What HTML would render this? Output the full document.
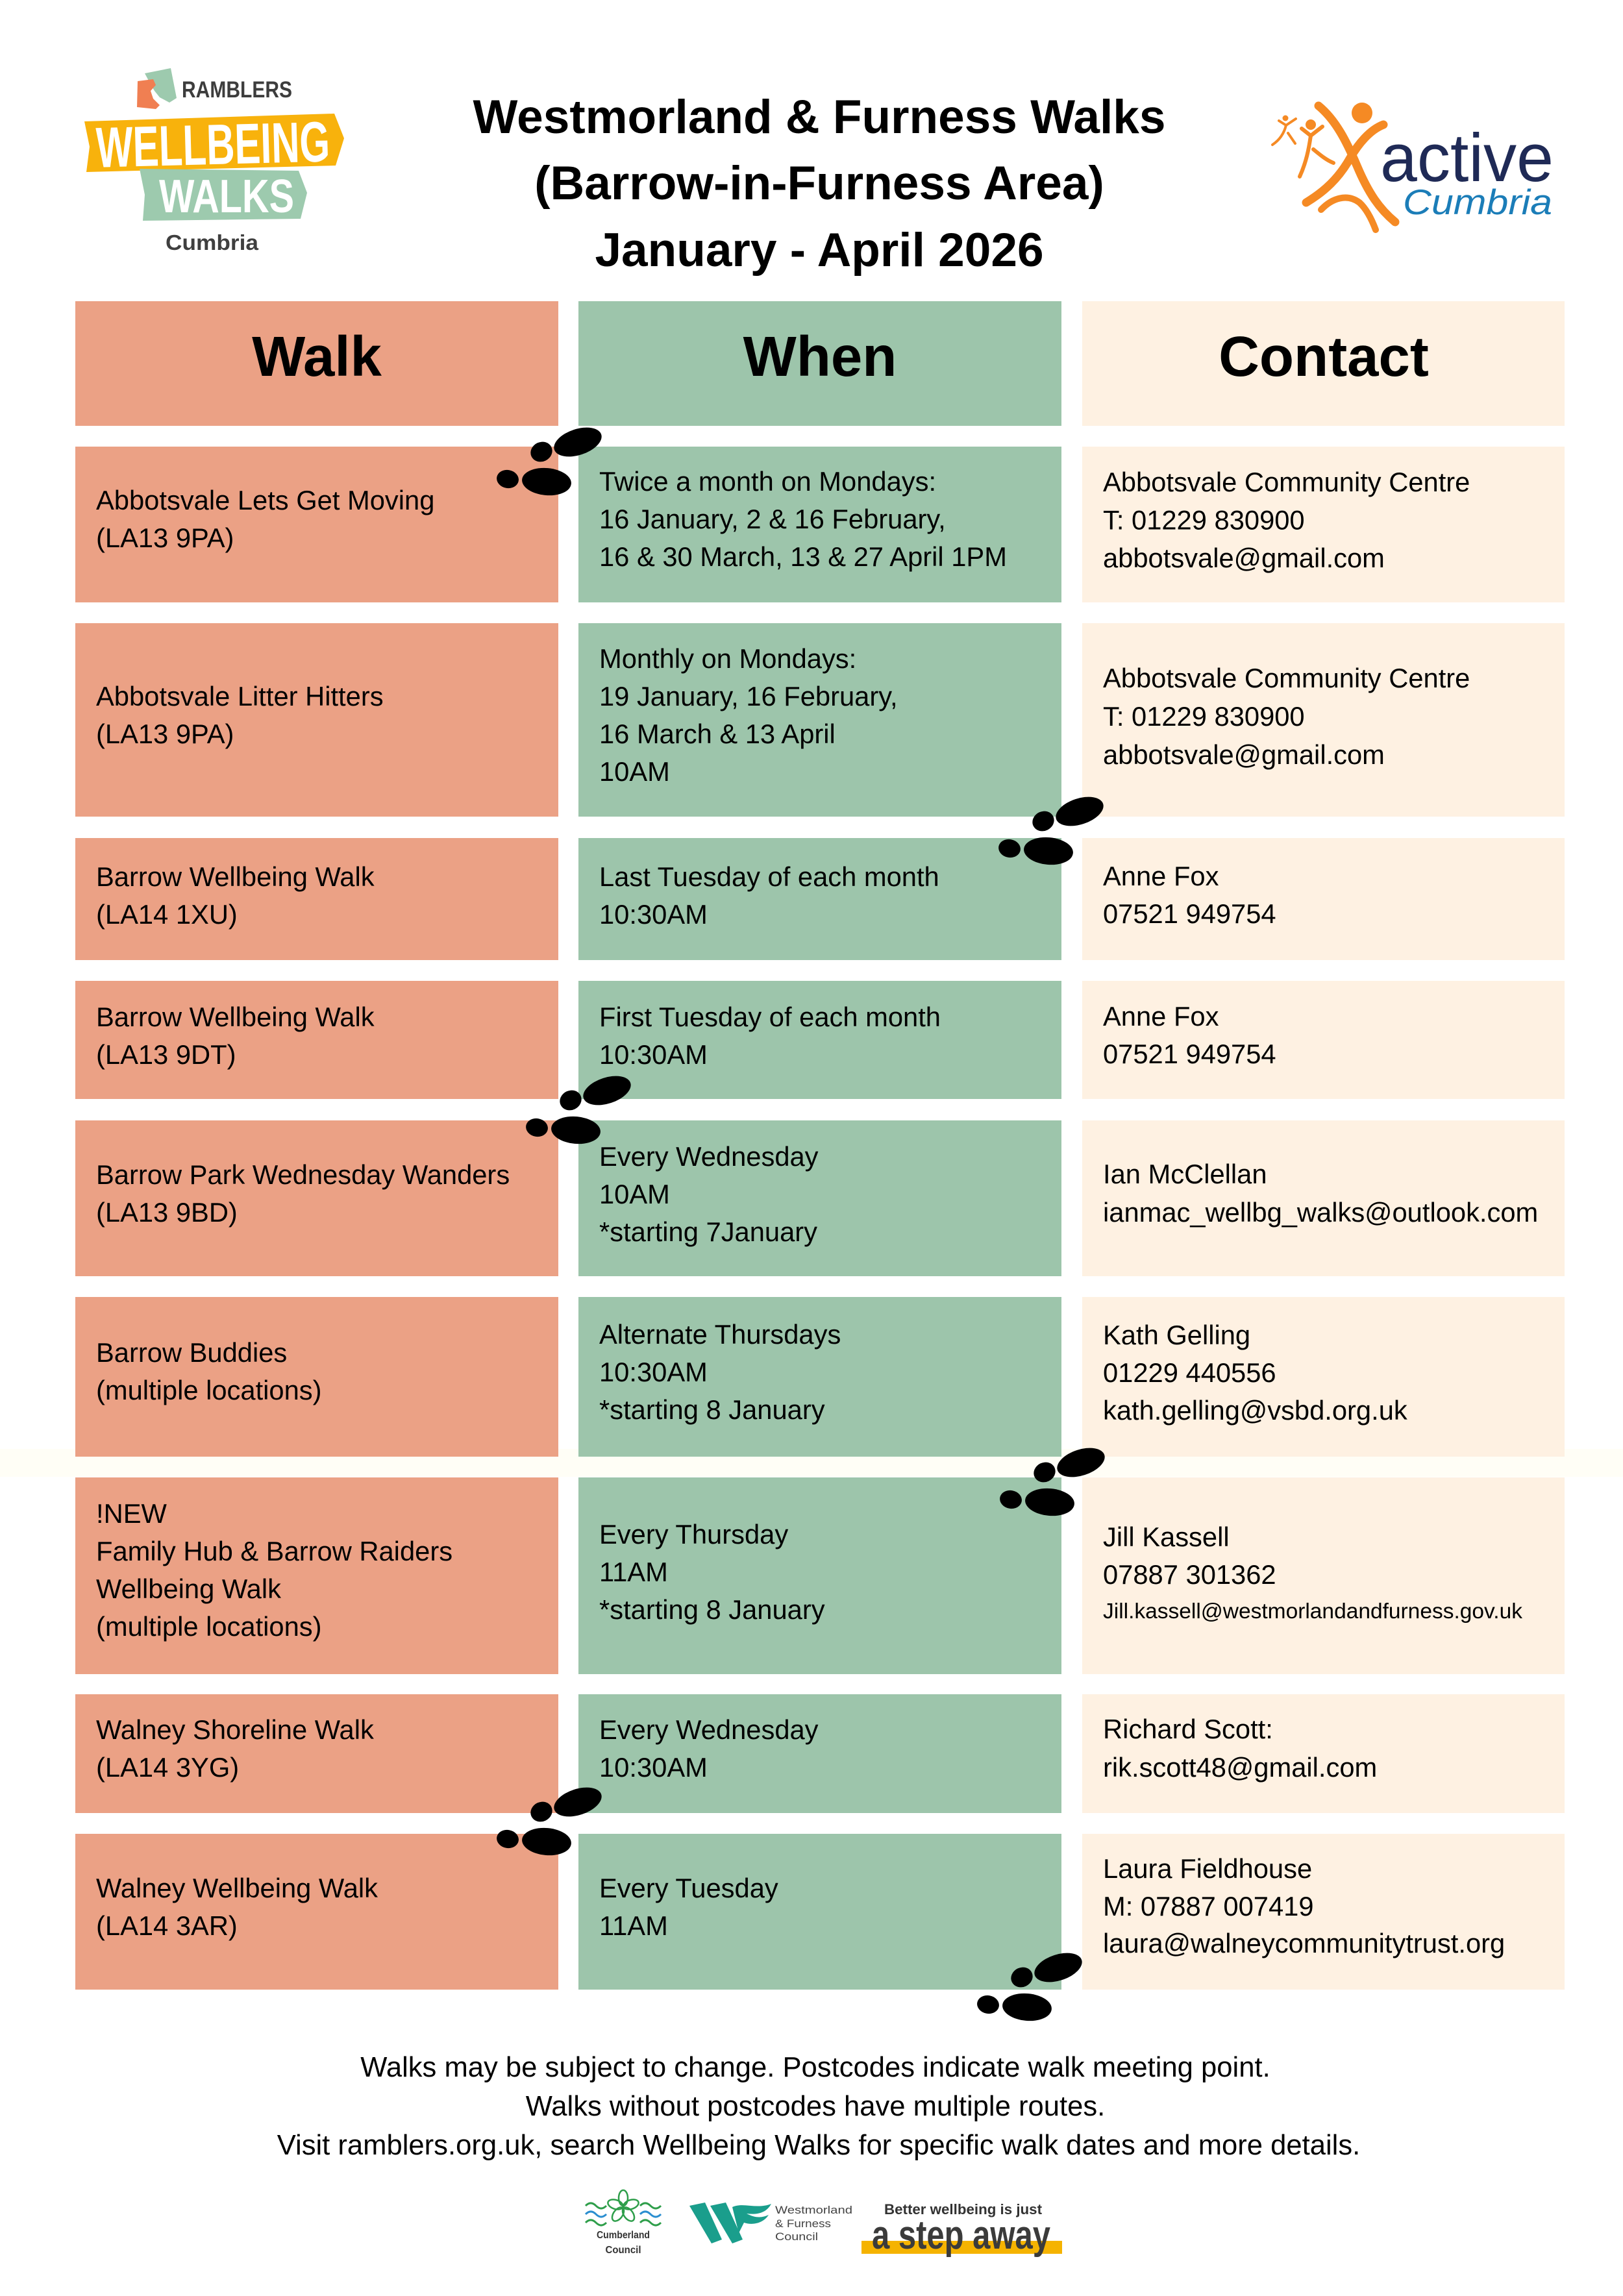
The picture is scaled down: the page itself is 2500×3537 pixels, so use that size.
<!DOCTYPE html>
<html>
<head>
<meta charset="utf-8">
<style>
html,body{margin:0;padding:0;background:#fff;}
body{width:2500px;height:3537px;overflow:hidden;}
svg{display:block;}
.t{font-family:"Liberation Sans",Arial,sans-serif;font-size:41.7px;fill:#000;}
.f{font-family:"Liberation Sans",Arial,sans-serif;font-size:43.6px;fill:#000;}
.b{font-family:"Liberation Sans",Arial,sans-serif;font-weight:bold;fill:#000;}
</style>
</head>
<body>
<svg width="2500" height="3537" viewBox="0 0 2500 3537" xmlns="http://www.w3.org/2000/svg">
<defs>
  <g id="fp">
    <ellipse cx="125" cy="20" rx="38" ry="20" transform="rotate(-18 125 20)" fill="#000"/>
    <ellipse cx="69" cy="35" rx="17" ry="15" transform="rotate(-25 69 35)" fill="#000"/>
    <ellipse cx="17" cy="77" rx="17" ry="14" transform="rotate(10 17 77)" fill="#000"/>
    <ellipse cx="77" cy="81" rx="38" ry="21" transform="rotate(5 77 81)" fill="#000"/>
  </g>
</defs>
<rect x="0" y="0" width="2500" height="3537" fill="#fff"/>
<rect x="0" y="2232" width="2500" height="43" fill="#fffef6"/>

<!-- Ramblers Wellbeing Walks logo -->
<polygon points="223,113 263,105 272,151 261,158 246,150 238,140 232,130" fill="#9dcaae"/>
<polygon points="212,125 236,122 240,131 232,140 236,152 246,162 240,168 211,165" fill="#f07f52"/>
<text x="280" y="150" class="b" font-size="35" style="fill:#3d3d3d" textLength="170" lengthAdjust="spacingAndGlyphs">RAMBLERS</text>
<polygon points="130,187 515,175 530,213 517,255 133,265 138,226" fill="#f8b20c"/>
<text x="148" y="253" class="b" font-size="88" style="fill:#fff" textLength="360" lengthAdjust="spacingAndGlyphs" transform="rotate(-1.5 330 220)">WELLBEING</text>
<polygon points="215,260 460,263 473,297 463,337 220,340 223,300" fill="#9dcaae"/>
<text x="245" y="327" class="b" font-size="72" style="fill:#fff" textLength="208" lengthAdjust="spacingAndGlyphs">WALKS</text>
<text x="255" y="385" class="b" font-size="33" style="fill:#3f3f3f" textLength="143" lengthAdjust="spacingAndGlyphs">Cumbria</text>

<!-- Title -->
<text x="1262" y="205" class="b" font-size="73" text-anchor="middle">Westmorland &amp; Furness Walks</text>
<text x="1262" y="307" class="b" font-size="73" text-anchor="middle">(Barrow-in-Furness Area)</text>
<text x="1262" y="410" class="b" font-size="73" text-anchor="middle">January - April 2026</text>

<!-- Active Cumbria logo -->
<g fill="none" stroke="#f58a24" stroke-linecap="round" stroke-linejoin="round">
  <path d="M2031,163 C2058,185 2075,220 2090,255 C2108,298 2125,322 2149,342" stroke-width="13"/>
  <path d="M2131,192 C2110,200 2092,222 2080,243 C2062,275 2040,295 2012,312" stroke-width="13"/>
  <path d="M2035,323 C2052,305 2075,298 2094,312 C2105,322 2113,338 2119,354" stroke-width="10"/>
  <path d="M2005,198 L2019,209 L2037,195" stroke-width="6"/>
  <path d="M2019,209 C2016,230 2012,250 2002,272" stroke-width="6"/>
  <path d="M2023,230 C2035,240 2044,247 2054,251" stroke-width="6"/>
  <path d="M1970,186 L1981,193 L1996,183" stroke-width="4"/>
  <path d="M1981,193 C1978,205 1972,215 1960,223" stroke-width="4"/>
  <path d="M1984,205 L1995,221" stroke-width="4"/>
</g>
<circle cx="2098" cy="174" r="16" fill="#f58a24"/>
<circle cx="2019" cy="192" r="8" fill="#f58a24"/>
<circle cx="1980" cy="182" r="4.5" fill="#f58a24"/>
<text x="2126" y="279" font-family="'Liberation Sans',Arial,sans-serif" font-size="105" fill="#1f2a56" textLength="267" lengthAdjust="spacingAndGlyphs">active</text>
<text x="2161" y="330" font-family="'Liberation Sans',Arial,sans-serif" font-style="italic" font-size="55" fill="#1b7db8" textLength="230" lengthAdjust="spacingAndGlyphs">Cumbria</text>

<!-- Header cells -->
<rect x="116" y="464" width="744" height="192" fill="#eba185"/>
<rect x="891" y="464" width="744" height="192" fill="#9dc5ab"/>
<rect x="1667" y="464" width="743" height="192" fill="#fef1e2"/>
<text x="488" y="579" class="b" font-size="87" text-anchor="middle">Walk</text>
<text x="1263" y="579" class="b" font-size="87" text-anchor="middle">When</text>
<text x="2039" y="579" class="b" font-size="87" text-anchor="middle">Contact</text>

<!-- Row cells -->
<g fill="#eba185">
  <rect x="116" y="688" width="744" height="240"/>
  <rect x="116" y="960" width="744" height="298"/>
  <rect x="116" y="1291" width="744" height="188"/>
  <rect x="116" y="1511" width="744" height="182"/>
  <rect x="116" y="1726" width="744" height="240"/>
  <rect x="116" y="1998" width="744" height="246"/>
  <rect x="116" y="2276" width="744" height="303"/>
  <rect x="116" y="2610" width="744" height="183"/>
  <rect x="116" y="2825" width="744" height="240"/>
</g>
<g fill="#9dc5ab">
  <rect x="891" y="688" width="744" height="240"/>
  <rect x="891" y="960" width="744" height="298"/>
  <rect x="891" y="1291" width="744" height="188"/>
  <rect x="891" y="1511" width="744" height="182"/>
  <rect x="891" y="1726" width="744" height="240"/>
  <rect x="891" y="1998" width="744" height="246"/>
  <rect x="891" y="2276" width="744" height="303"/>
  <rect x="891" y="2610" width="744" height="183"/>
  <rect x="891" y="2825" width="744" height="240"/>
</g>
<g fill="#fef1e2">
  <rect x="1667" y="688" width="743" height="240"/>
  <rect x="1667" y="960" width="743" height="298"/>
  <rect x="1667" y="1291" width="743" height="188"/>
  <rect x="1667" y="1511" width="743" height="182"/>
  <rect x="1667" y="1726" width="743" height="240"/>
  <rect x="1667" y="1998" width="743" height="246"/>
  <rect x="1667" y="2276" width="743" height="303"/>
  <rect x="1667" y="2610" width="743" height="183"/>
  <rect x="1667" y="2825" width="743" height="240"/>
</g>

<!-- Row 1 -->
<text class="t" x="148" y="785"><tspan x="148">Abbotsvale Lets Get Moving</tspan><tspan x="148" dy="58">(LA13 9PA)</tspan></text>
<text class="t" x="923" y="756"><tspan x="923">Twice a month on Mondays:</tspan><tspan x="923" dy="58">16 January, 2 &amp; 16 February,</tspan><tspan x="923" dy="58">16 &amp; 30 March, 13 &amp; 27 April 1PM</tspan></text>
<text class="t" x="1699" y="757"><tspan x="1699">Abbotsvale Community Centre</tspan><tspan x="1699" dy="58.5">T: 01229 830900</tspan><tspan x="1699" dy="58.5">abbotsvale@gmail.com</tspan></text>

<!-- Row 2 -->
<text class="t" x="148" y="1087"><tspan x="148">Abbotsvale Litter Hitters</tspan><tspan x="148" dy="58">(LA13 9PA)</tspan></text>
<text class="t" x="923" y="1029"><tspan x="923">Monthly on Mondays:</tspan><tspan x="923" dy="58">19 January, 16 February,</tspan><tspan x="923" dy="58">16 March &amp; 13 April</tspan><tspan x="923" dy="58">10AM</tspan></text>
<text class="t" x="1699" y="1059"><tspan x="1699">Abbotsvale Community Centre</tspan><tspan x="1699" dy="59">T: 01229 830900</tspan><tspan x="1699" dy="59">abbotsvale@gmail.com</tspan></text>

<!-- Row 3 -->
<text class="t" x="148" y="1365"><tspan x="148">Barrow Wellbeing Walk</tspan><tspan x="148" dy="58">(LA14 1XU)</tspan></text>
<text class="t" x="923" y="1365"><tspan x="923">Last Tuesday of each month</tspan><tspan x="923" dy="58">10:30AM</tspan></text>
<text class="t" x="1699" y="1364"><tspan x="1699">Anne Fox</tspan><tspan x="1699" dy="58">07521 949754</tspan></text>

<!-- Row 4 -->
<text class="t" x="148" y="1581"><tspan x="148">Barrow Wellbeing Walk</tspan><tspan x="148" dy="58">(LA13 9DT)</tspan></text>
<text class="t" x="923" y="1581"><tspan x="923">First Tuesday of each month</tspan><tspan x="923" dy="58">10:30AM</tspan></text>
<text class="t" x="1699" y="1580"><tspan x="1699">Anne Fox</tspan><tspan x="1699" dy="58">07521 949754</tspan></text>

<!-- Row 5 -->
<text class="t" x="148" y="1824"><tspan x="148">Barrow Park Wednesday Wanders</tspan><tspan x="148" dy="58">(LA13 9BD)</tspan></text>
<text class="t" x="923" y="1796"><tspan x="923">Every Wednesday</tspan><tspan x="923" dy="58">10AM</tspan><tspan x="923" dy="58">*starting 7January</tspan></text>
<text class="t" x="1699" y="1823"><tspan x="1699">Ian McClellan</tspan><tspan x="1699" dy="59">ianmac_wellbg_walks@outlook.com</tspan></text>

<!-- Row 6 -->
<text class="t" x="148" y="2098"><tspan x="148">Barrow Buddies</tspan><tspan x="148" dy="58">(multiple locations)</tspan></text>
<text class="t" x="923" y="2070"><tspan x="923">Alternate Thursdays</tspan><tspan x="923" dy="58">10:30AM</tspan><tspan x="923" dy="58">*starting 8 January</tspan></text>
<text class="t" x="1699" y="2071"><tspan x="1699">Kath Gelling</tspan><tspan x="1699" dy="58">01229 440556</tspan><tspan x="1699" dy="58">kath.gelling@vsbd.org.uk</tspan></text>

<!-- Row 7 -->
<text class="t" x="148" y="2346"><tspan x="148">!NEW</tspan><tspan x="148" dy="58">Family Hub &amp; Barrow Raiders</tspan><tspan x="148" dy="58">Wellbeing Walk</tspan><tspan x="148" dy="58">(multiple locations)</tspan></text>
<text class="t" x="923" y="2378"><tspan x="923">Every Thursday</tspan><tspan x="923" dy="58">11AM</tspan><tspan x="923" dy="58">*starting 8 January</tspan></text>
<text class="t" x="1699" y="2382"><tspan x="1699">Jill Kassell</tspan><tspan x="1699" dy="58">07887 301362</tspan></text>
<text x="1699" y="2493" font-family="'Liberation Sans',Arial,sans-serif" font-size="33.5" fill="#000">Jill.kassell@westmorlandandfurness.gov.uk</text>

<!-- Row 8 -->
<text class="t" x="148" y="2679"><tspan x="148">Walney Shoreline Walk</tspan><tspan x="148" dy="58">(LA14 3YG)</tspan></text>
<text class="t" x="923" y="2679"><tspan x="923">Every Wednesday</tspan><tspan x="923" dy="58">10:30AM</tspan></text>
<text class="t" x="1699" y="2678"><tspan x="1699">Richard Scott:</tspan><tspan x="1699" dy="59">rik.scott48@gmail.com</tspan></text>

<!-- Row 9 -->
<text class="t" x="148" y="2923"><tspan x="148">Walney Wellbeing Walk</tspan><tspan x="148" dy="58">(LA14 3AR)</tspan></text>
<text class="t" x="923" y="2923"><tspan x="923">Every Tuesday</tspan><tspan x="923" dy="58">11AM</tspan></text>
<text class="t" x="1699" y="2893"><tspan x="1699">Laura Fieldhouse</tspan><tspan x="1699" dy="58">M: 07887 007419</tspan><tspan x="1699" dy="57">laura@walneycommunitytrust.org</tspan></text>

<!-- Footprints -->
<use href="#fp" x="765" y="661"/>
<use href="#fp" x="1538" y="1230"/>
<use href="#fp" x="810" y="1660"/>
<use href="#fp" x="1540" y="2233"/>
<use href="#fp" x="765" y="2756"/>
<use href="#fp" x="1505" y="3011"/>

<!-- Footer text -->
<text class="f" x="1256" y="3199" text-anchor="middle">Walks may be subject to change. Postcodes indicate walk meeting point.</text>
<text class="f" x="1256" y="3259" text-anchor="middle">Walks without postcodes have multiple routes.</text>
<text class="f" x="1261" y="3319" text-anchor="middle">Visit ramblers.org.uk, search Wellbeing Walks for specific walk dates and more details.</text>

<!-- Cumberland Council logo -->
<g fill="none" stroke="#2e9e4a" stroke-width="2.5">
  <ellipse cx="960" cy="3386" rx="7" ry="12"/>
  <ellipse cx="972" cy="3396" rx="7" ry="12" transform="rotate(72 972 3396)"/>
  <ellipse cx="968" cy="3411" rx="7" ry="12" transform="rotate(144 968 3411)"/>
  <ellipse cx="952" cy="3411" rx="7" ry="12" transform="rotate(216 952 3411)"/>
  <ellipse cx="948" cy="3396" rx="7" ry="12" transform="rotate(288 948 3396)"/>
  <path d="M902,3398 q8,-8 16,0 q8,8 16,0" stroke-width="3"/>
  <path d="M902,3424 q8,-8 16,0 q8,8 16,0" stroke-width="3"/>
  <path d="M986,3398 q8,-8 16,0 q8,8 16,0" stroke-width="3"/>
  <path d="M986,3424 q8,-8 16,0 q8,8 16,0" stroke-width="3"/>
</g>
<g fill="none" stroke="#2a8ed0" stroke-width="3">
  <path d="M902,3411 q8,-8 16,0 q8,8 16,0"/>
  <path d="M986,3411 q8,-8 16,0 q8,8 16,0"/>
</g>
<text x="960" y="3448" font-family="'Liberation Sans',Arial,sans-serif" font-weight="bold" font-size="16" fill="#333" text-anchor="middle" textLength="82" lengthAdjust="spacingAndGlyphs">Cumberland</text>
<text x="960" y="3471" font-family="'Liberation Sans',Arial,sans-serif" font-weight="bold" font-size="16" fill="#333" text-anchor="middle" textLength="55" lengthAdjust="spacingAndGlyphs">Council</text>

<!-- Westmorland & Furness Council logo -->
<g fill="#1a9e8c">
  <polygon points="1062,3398 1086,3393 1112,3450 1096,3456"/>
  <polygon points="1094,3398 1118,3393 1144,3450 1128,3456"/>
  <path d="M1128,3400 C1145,3392 1165,3404 1188,3395 C1180,3410 1165,3412 1150,3410 C1165,3418 1175,3416 1184,3412 C1175,3426 1158,3428 1146,3424 L1138,3440 Z"/>
</g>
<text x="1194" y="3410" font-family="'Liberation Sans',Arial,sans-serif" font-size="17" fill="#444" textLength="119" lengthAdjust="spacingAndGlyphs">Westmorland</text>
<text x="1194" y="3431" font-family="'Liberation Sans',Arial,sans-serif" font-size="17" fill="#444" textLength="86" lengthAdjust="spacingAndGlyphs">&amp; Furness</text>
<text x="1194" y="3451" font-family="'Liberation Sans',Arial,sans-serif" font-size="17" fill="#444" textLength="66" lengthAdjust="spacingAndGlyphs">Council</text>

<!-- a step away -->
<text x="1362" y="3411" font-family="'Liberation Sans',Arial,sans-serif" font-weight="bold" font-size="22" fill="#333" textLength="243" lengthAdjust="spacingAndGlyphs">Better wellbeing is just</text>
<rect x="1327" y="3452" width="309" height="20" fill="#f5b301"/>
<text x="1343" y="3464" font-family="'Liberation Sans',Arial,sans-serif" font-weight="bold" font-size="62" fill="#3b3b3b" textLength="275" lengthAdjust="spacingAndGlyphs">a step away</text>
</svg>
</body>
</html>
